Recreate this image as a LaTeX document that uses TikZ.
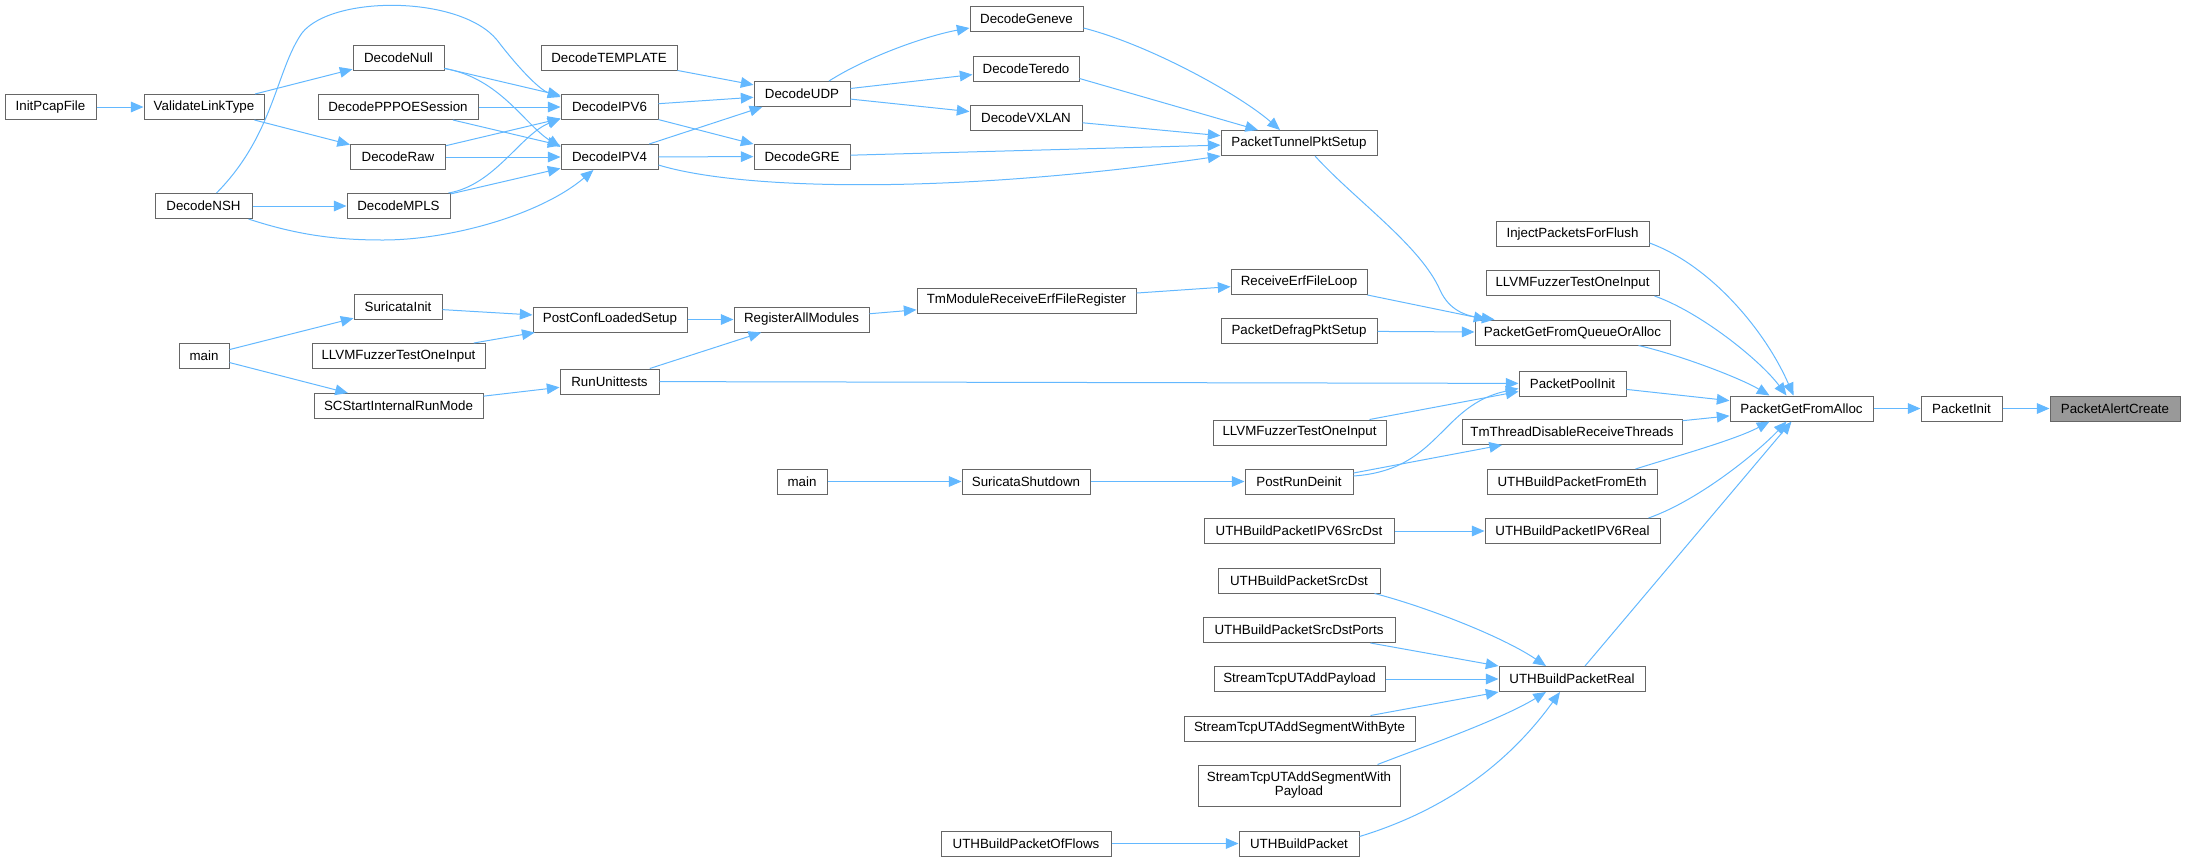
\documentclass[tikz,border=0pt]{standalone}
\usepackage{fontspec}
\setmainfont{Liberation Sans}
\usetikzlibrary{arrows.meta,calc}
\definecolor{edgec}{HTML}{63B8FF}
\definecolor{nodeb}{HTML}{666666}
\definecolor{hl}{HTML}{999999}
\newcommand\mknode[5]{\node[box,minimum width=#4*0.75pt] (#1) at (#2,#3) {#5};}
\begin{document}
\begin{tikzpicture}[x=0.75pt,y=-0.75pt,
 box/.style={draw=nodeb, fill=white, line width=0.75pt, minimum height=18.75pt, inner sep=0pt, font=\fontsize{10}{10.5}\selectfont, align=center},
 cedge/.style={draw=edgec, line width=0.75pt, -{Triangle[length=9.5pt,width=8pt]}}]
\useasboundingbox (0,0) rectangle (2185,861);
% nodes
\mknode{initpcap}{50.5}{107}{91}{InitPcapFile}
\mknode{vlt}{204}{107}{120}{ValidateLinkType}
\mknode{nsh}{203.5}{206}{97}{DecodeNSH}
\mknode{mainL}{204}{356}{50}{main}
\mknode{null}{398.5}{57.5}{91}{DecodeNull}
\mknode{pppoe}{398}{107}{160}{DecodePPPOESession}
\mknode{raw}{398}{157}{95}{DecodeRaw}
\mknode{mpls}{398.5}{206}{103}{DecodeMPLS}
\mknode{suriinit}{398}{307}{88}{SuricataInit}
\mknode{llvmL}{398.5}{356}{173}{LLVMFuzzerTestOneInput}
\mknode{scstart}{398.5}{406}{169}{SCStartInternalRunMode}
\mknode{template}{609}{57.5}{136}{DecodeTEMPLATE}
\mknode{ipv6}{609.5}{107}{97}{DecodeIPV6}
\mknode{ipv4}{609.5}{157}{97}{DecodeIPV4}
\mknode{postconf}{610}{319.5}{154}{PostConfLoadedSetup}
\mknode{rununit}{609.5}{381.5}{99}{RunUnittests}
\mknode{udp}{802}{94}{96}{DecodeUDP}
\mknode{gre}{802}{156.5}{96}{DecodeGRE}
\mknode{regall}{801.5}{319.5}{135}{RegisterAllModules}
\mknode{mainM}{802}{481.5}{50}{main}
\mknode{geneve}{1026.5}{19}{113}{DecodeGeneve}
\mknode{teredo}{1026}{68.5}{106}{DecodeTeredo}
\mknode{vxlan}{1026}{117.5}{112}{DecodeVXLAN}
\mknode{tmmod}{1026.5}{300.5}{219}{TmModuleReceiveErfFileRegister}
\mknode{surishut}{1026}{481.5}{128}{SuricataShutdown}
\mknode{offlows}{1026}{843.5}{170}{UTHBuildPacketOfFlows}
\mknode{ptps}{1299}{143}{156}{PacketTunnelPktSetup}
\mknode{recverf}{1299}{282}{136}{ReceiveErfFileLoop}
\mknode{defrag}{1299}{331}{156}{PacketDefragPktSetup}
\mknode{llvmM}{1299.5}{432.5}{173}{LLVMFuzzerTestOneInput}
\mknode{postrun}{1299}{481.5}{108}{PostRunDeinit}
\mknode{ipv6srcdst}{1299}{531}{190}{UTHBuildPacketIPV6SrcDst}
\mknode{srcdst}{1299}{580.5}{162}{UTHBuildPacketSrcDst}
\mknode{ports}{1299}{630}{192}{UTHBuildPacketSrcDstPorts}
\mknode{addpay}{1299.5}{679}{171}{StreamTcpUTAddPayload}
\mknode{withbyte}{1299.5}{728.5}{231}{StreamTcpUTAddSegmentWithByte}
\node[box,minimum width=202*0.75pt,minimum height=41*0.75pt] (withpay) at (1299,785.5) {StreamTcpUTAddSegmentWith\\Payload};
\mknode{uthbp}{1299}{843.5}{120}{UTHBuildPacket}
\mknode{inject}{1572.5}{234}{153}{InjectPacketsForFlush}
\mknode{llvmR}{1572.5}{283}{173}{LLVMFuzzerTestOneInput}
\mknode{pgfqoa}{1572.5}{332.5}{195}{PacketGetFromQueueOrAlloc}
\mknode{pool}{1572.5}{383.5}{107}{PacketPoolInit}
\mknode{tmthread}{1572}{432}{220}{TmThreadDisableReceiveThreads}
\mknode{frometh}{1572}{482}{170}{UTHBuildPacketFromEth}
\mknode{ipv6real}{1572.5}{531}{175}{UTHBuildPacketIPV6Real}
\mknode{uthreal}{1572}{679}{146}{UTHBuildPacketReal}
\mknode{pgfa}{1801.5}{408.5}{143}{PacketGetFromAlloc}
\mknode{pinit}{1961.5}{408.5}{81}{PacketInit}
\node[box,fill=hl,minimum width=130*0.75pt] (pac) at (2115,408.5) {PacketAlertCreate};
% edges
\draw[cedge] (pinit) -- (pac);
\draw[cedge] (pgfa) -- (pinit);
\draw[cedge] ($(inject.east)+(0,9)$) .. controls (1710,265) and (1765,330) .. ($(pgfa.north)+(-8,0)$);
\draw[cedge] ($(llvmR.south east)+(-5,0)$) .. controls (1700,312) and (1760,360) .. ($(pgfa.north)+(-15,0)$);
\draw[cedge] ($(pgfqoa.south east)+(-32,0)$) .. controls (1680,355) and (1740,378) .. ($(pgfa.north west)+(40,0)$);
\draw[cedge] (pool) -- (pgfa);
\draw[cedge] (tmthread) -- (pgfa);
\draw[cedge] ($(frometh.north east)+(-22,0)$) .. controls (1670,458) and (1735,440) .. ($(pgfa.south west)+(40,0)$);
\draw[cedge] ($(ipv6real.north east)+(-12,0)$) .. controls (1700,500) and (1760,450) .. ($(pgfa.south)+(-15,0)$);
\draw[cedge] ($(uthreal.north)+(13,0)$) -- ($(pgfa.south)+(-10,0)$);
\draw[cedge] ($(ptps.south)+(16,0)$) .. controls (1355,200) and (1420,245) .. (1440,290) .. controls (1449,310) and (1465,316) .. ($(pgfqoa.north west)+(20,0)$);
\draw[cedge] (recverf.south east) -- ($(pgfqoa.north west)+(12,0)$);
\draw[cedge] (defrag) -- (pgfqoa);
\draw[cedge] (rununit) -- (pool);
\draw[cedge] ($(llvmM.north)+(70,0)$) -- ($(pool.west)+(0,8)$);
\draw[cedge] ($(postrun.east)+(0,-5.5)$) .. controls (1440,470) and (1440,405) .. ($(pool.west)+(0,5)$);
\draw[cedge] ($(postrun.east)+(0,-8.5)$) -- ($(tmthread.south)+(-70,0)$);
\draw[cedge] (ipv6srcdst) -- (ipv6real);
\draw[cedge] ($(srcdst.south east)+(-6,0)$) .. controls (1420,605) and (1500,635) .. ($(uthreal.north)+(-26,0)$);
\draw[cedge] ($(ports.south east)+(-25,0)$) -- (uthreal.north west);
\draw[cedge] (addpay) -- (uthreal);
\draw[cedge] ($(withbyte.north east)+(-45,0)$) -- (uthreal.south west);
\draw[cedge] ($(withpay.north east)+(-23,0)$) .. controls (1420,748) and (1500,720) .. ($(uthreal.south)+(-26,0)$);
\draw[cedge] ($(uthbp.east)+(0,-7)$) .. controls (1430,815) and (1500,775) .. ($(uthreal.south)+(-12,0)$);
\draw[cedge] (offlows) -- (uthbp);
\draw[cedge] ($(geneve.east)+(0,9)$) .. controls (1150,45) and (1240,95) .. ($(ptps.north)+(-19,0)$);
\draw[cedge] ($(teredo.east)+(0,10)$) -- ($(ptps.north)+(-41,0)$);
\draw[cedge] (vxlan) -- (ptps);
\draw[cedge] (gre) -- (ptps);
\draw[cedge] ($(ipv4.east)+(0,8)$) .. controls (740,190) and (950,195) .. (ptps.south west);
\draw[cedge] ($(udp.north)+(27,0)$) .. controls (870,55) and (930,35) .. ($(geneve.west)+(0,9)$);
\draw[cedge] (udp) -- (teredo);
\draw[cedge] (udp) -- (vxlan);
\draw[cedge] (template) -- (udp);
\draw[cedge] (ipv6) -- (udp);
\draw[cedge] (ipv4) -- (udp);
\draw[cedge] (ipv6) -- (gre);
\draw[cedge] (ipv4) -- (gre);
\draw[cedge] (null) -- (ipv6);
\draw[cedge] ($(null.east)+(0,11)$) .. controls (500,78) and (525,125) .. ($(ipv4.west)+(0,-10)$);
\draw[cedge] (pppoe) -- (ipv6);
\draw[cedge] (pppoe) -- (ipv4);
\draw[cedge] (raw) -- (ipv6);
\draw[cedge] (raw) -- (ipv4);
\draw[cedge] ($(mpls.north east)+(-2,0)$) .. controls (495,185) and (520,135) .. ($(ipv6.south west)+(0,-1.5)$);
\draw[cedge] (mpls) -- (ipv4);
\draw[cedge] ($(nsh.north)+(13,0)$) .. controls (274,135) and (276,70) .. (302,33) .. controls (332,-5) and (460,-5) .. (497,40) .. controls (520,70) and (540,90) .. ($(ipv6.west)+(0,-10)$);
\draw[cedge] ($(nsh.south east)+(-4,0)$) .. controls (300,236) and (340,240) .. (383,240) .. controls (450,240) and (540,215) .. ($(ipv4.south)+(-16,0)$);
\draw[cedge] (nsh) -- (mpls);
\draw[cedge] (vlt) -- (null);
\draw[cedge] (vlt) -- (raw);
\draw[cedge] (initpcap) -- (vlt);
\draw[cedge] (tmmod) -- (recverf);
\draw[cedge] (regall) -- (tmmod);
\draw[cedge] (postconf) -- (regall);
\draw[cedge] (rununit) -- (regall);
\draw[cedge] (suriinit) -- (postconf);
\draw[cedge] (llvmL) -- (postconf);
\draw[cedge] (mainL) -- (suriinit);
\draw[cedge] (mainL) -- (scstart);
\draw[cedge] (scstart) -- (rununit);
\draw[cedge] (mainM) -- (surishut);
\draw[cedge] (surishut) -- (postrun);
\end{tikzpicture}
\end{document}
